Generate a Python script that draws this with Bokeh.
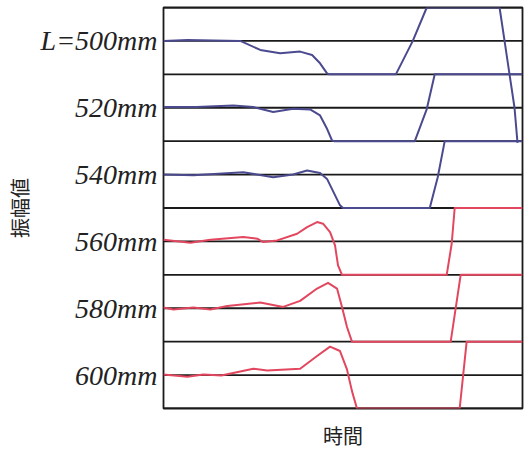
import math
from bokeh.plotting import figure
from bokeh.models import Range1d, FixedTicker
from bokeh.embed import file_html
from bokeh.resources import INLINE

# ---- data (time in arbitrary units 0..360, amplitude in band units, baseline = 0) ----
labels = ["L=500mm", "520mm", "540mm", "560mm", "580mm", "600mm"]
baselines = [11, 9, 7, 5, 3, 1]
grid_levels = list(range(13))

t500 = [0, 24, 77, 97, 117, 137, 149, 157, 164, 166, 233, 250, 264, 337, 342, 347, 352, 355]
v500 = [0, 0.03, 0, -0.27, -0.37, -0.32, -0.42, -0.67, -0.97, -1, -1, 0, 1, 1, 0, -1, -2, -3.05]

t520 = [0, 33, 70, 90, 110, 130, 147, 157, 164, 169, 171, 252, 264, 272, 360]
v520 = [0.02, 0.02, 0.07, 0.02, -0.13, -0.03, -0.05, -0.23, -0.63, -0.98, -1, -1, -0.04, 1, 1]

t540 = [0, 30, 80, 110, 130, 144, 157, 164, 177, 180, 267, 275, 282, 360]
v540 = [0, -0.02, 0.07, -0.08, 0, 0.12, 0.05, -0.13, -0.92, -1, -1, -0.08, 1, 1]

t560 = [0, 27, 47, 80, 94, 100, 114, 134, 144, 154, 160, 167, 172, 175, 179, 284, 289, 292, 360]
v560 = [0.05, -0.04, 0.05, 0.13, 0.08, -0.02, 0.03, 0.23, 0.43, 0.58, 0.53, 0.28, -0.12, -0.72, -1, -1, -0.07, 1, 1]

t580 = [0, 10, 30, 47, 64, 97, 120, 137, 154, 165, 174, 179, 184, 189, 288, 298, 360]
v580 = [0.02, -0.04, 0.02, -0.04, 0.07, 0.17, 0.04, 0.22, 0.59, 0.76, 0.59, 0.04, -0.56, -1, -1, 1, 1]

t600 = [0, 24, 40, 58, 90, 104, 137, 154, 167, 177, 184, 189, 194, 297, 304, 360]
v600 = [0.02, -0.05, 0.02, -0.01, 0.19, 0.14, 0.19, 0.57, 0.85, 0.72, 0.17, -0.48, -1, -1, 1, 1]

series_t = [t500, t520, t540, t560, t580, t600]
series_v = [v500, v520, v540, v560, v580, v600]
colors = ["#4b4a8e", "#4b4a8e", "#4b4a8e", "#e2475f", "#e2475f", "#e2475f"]

p = figure(width=526, height=452, output_backend="svg", toolbar_location=None,
           x_range=Range1d(0, 360), y_range=Range1d(0, 12),
           min_border_left=163, min_border_right=4, min_border_top=7, min_border_bottom=43)
p.xgrid.visible = False
p.ygrid.visible = False
p.outline_line_color = "#1a1a1a"
p.outline_line_width = 1.8
p.background_fill_color = "white"
p.border_fill_color = "white"

# horizontal band lines
p.segment(x0=[0] * len(grid_levels), x1=[360] * len(grid_levels), y0=grid_levels, y1=grid_levels,
          line_color="#1a1a1a", line_width=1.8)

for ts, vs, b, c in zip(series_t, series_v, baselines, colors):
    p.line(ts, [b + v for v in vs], line_color=c, line_width=2.0, line_join="round")

# y axis: channel labels + title
ya = p.yaxis[0]
ya.ticker = FixedTicker(ticks=baselines)
ya.major_label_overrides = {b: l for b, l in zip(baselines, labels)}
ya.major_label_text_font = "Liberation Serif"
ya.major_label_text_font_style = "italic"
ya.major_label_text_font_size = "28px"
ya.major_label_text_color = "#222222"
ya.major_label_standoff = 0
ya.axis_line_color = None
ya.major_tick_line_color = None
ya.minor_tick_line_color = None
ya.axis_label = "振幅値"
ya.axis_label_text_font = "Noto Sans CJK JP"
ya.axis_label_text_font_style = "normal"
ya.axis_label_text_font_size = "20px"
ya.axis_label_text_color = "#222222"
ya.axis_label_standoff = 4

# x axis: title only
xa = p.xaxis[0]
xa.ticker = FixedTicker(ticks=[])
xa.axis_line_color = None
xa.major_tick_line_color = None
xa.minor_tick_line_color = None
xa.major_label_standoff = 0
xa.axis_label = "時間"
xa.axis_label_text_font = "Noto Sans CJK JP"
xa.axis_label_text_font_style = "normal"
xa.axis_label_text_font_size = "20px"
xa.axis_label_text_color = "#222222"
xa.axis_label_standoff = 12

open("out.html", "w").write(file_html(p, INLINE))
